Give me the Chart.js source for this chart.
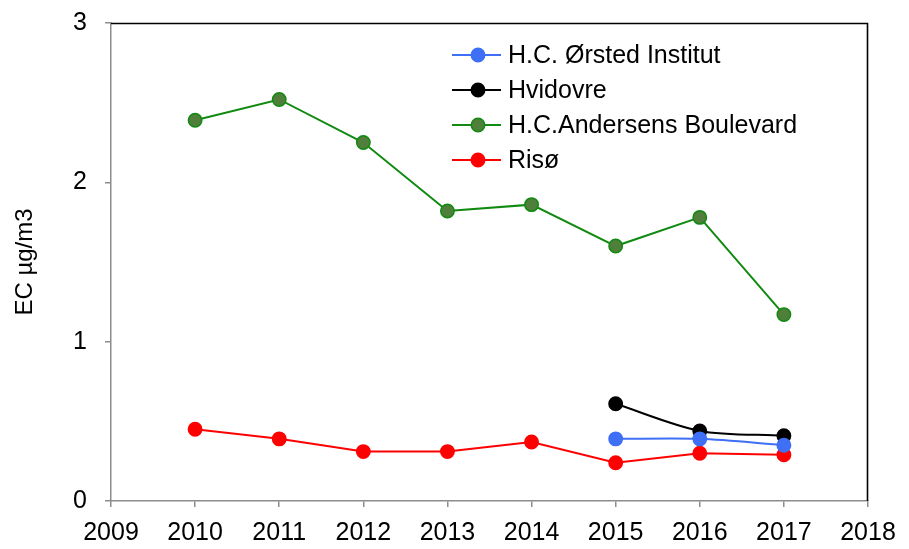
<!DOCTYPE html>
<html>
<head>
<meta charset="utf-8">
<script src="https://cdn.jsdelivr.net/npm/chart.js@4.4.1/dist/chart.umd.min.js"></script>
<style>
  html, body { margin: 0; padding: 0; background: #fff; }
  #wrap { width: 909px; height: 549px; }
</style>
</head>
<body>
<div id="wrap"><canvas id="ecChart" width="909" height="549"></canvas></div>
<script>
  // yearly mean elemental carbon, µg/m3
  const years = [2010, 2011, 2012, 2013, 2014, 2015, 2016, 2017];
  const orsted = [null, null, null, null, null, 0.39, 0.39, 0.35];
  const hvidovre = [null, null, null, null, null, 0.61, 0.44, 0.41];
  const hcAndersen = [2.39, 2.52, 2.25, 1.82, 1.86, 1.60, 1.78, 1.17];
  const riso = [0.45, 0.39, 0.31, 0.31, 0.37, 0.24, 0.30, 0.29];
  const xTicks = [2009, 2010, 2011, 2012, 2013, 2014, 2015, 2016, 2017, 2018];
  const yTicks = [0, 1, 2, 3];

  const font = "'Liberation Sans', Arial, sans-serif";

  function points(values) {
    return years.map((x, i) => ({ x, y: values[i] })).filter((p) => p.y !== null);
  }

  function series(label, values, line, fill, tension) {
    return {
      label,
      data: points(values),
      borderColor: line,
      backgroundColor: fill,
      pointBackgroundColor: fill,
      pointBorderColor: line,
      pointBorderWidth: 1.5,
      pointRadius: 6.7,
      borderWidth: 2,
      tension: tension || 0,
    };
  }

  // legend drawn inside the plot: short line with a marker, then the name
  const insideLegend = {
    id: "insideLegend",
    afterDatasetsDraw(chart) {
      const ctx = chart.ctx;
      ctx.save();
      ctx.font = `25px ${font}`;
      ctx.textBaseline = "middle";
      chart.data.datasets.forEach((ds, i) => {
        const y = 55 + i * 35;
        ctx.strokeStyle = ds.borderColor;
        ctx.lineWidth = 2;
        ctx.beginPath();
        ctx.moveTo(452, y);
        ctx.lineTo(501, y);
        ctx.stroke();
        ctx.beginPath();
        ctx.arc(478, y, 6.7, 0, Math.PI * 2);
        ctx.fillStyle = ds.pointBackgroundColor;
        ctx.fill();
        ctx.lineWidth = 1.5;
        ctx.stroke();
        ctx.fillStyle = "#000";
        ctx.fillText(ds.label, 508, y + 1);
      });
      ctx.restore();
    },
  };

  // dark frame on the top and right of the plot
  const frame = {
    id: "frame",
    beforeDatasetsDraw(chart) {
      const a = chart.chartArea;
      const ctx = chart.ctx;
      ctx.save();
      ctx.strokeStyle = "#000";
      ctx.lineWidth = 1.6;
      ctx.beginPath();
      ctx.moveTo(a.left, a.top + 0.5);
      ctx.lineTo(a.right - 0.5, a.top + 0.5);
      ctx.lineTo(a.right - 0.5, a.bottom);
      ctx.stroke();
      ctx.restore();
    },
  };

  new Chart(document.getElementById("ecChart"), {
    type: "line",
    data: {
      datasets: [
        series("H.C. Ørsted Institut", orsted, "#3f6ff5", "#3f6ff5", 0.3),
        series("Hvidovre", hvidovre, "#000000", "#000000", 0.3),
        series("H.C.Andersens Boulevard", hcAndersen, "#108a10", "#4f7f3a"),
        series("Risø", riso, "#ff0000", "#ff0000"),
      ],
    },
    options: {
      responsive: false,
      animation: false,
      layout: { padding: { top: 23, right: 41, left: 0, bottom: 0 } },
      plugins: { legend: { display: false }, tooltip: { enabled: false } },
      scales: {
        x: {
          type: "linear",
          min: xTicks[0],
          max: xTicks[xTicks.length - 1],
          afterBuildTicks(scale) { scale.ticks = xTicks.map((v) => ({ value: v })); },
          afterFit(scale) {
            scale.height = 48;
            scale.paddingLeft = 0;
            scale.paddingRight = 0;
          },
          grid: { drawOnChartArea: false, tickLength: 6, color: "#8c8c8c", lineWidth: 1.5 },
          border: { color: "#8c8c8c", width: 1.5 },
          ticks: {
            color: "#000",
            padding: 11,
            font: { family: font, size: 25 },
            callback: (v) => String(v),
          },
        },
        y: {
          min: yTicks[0],
          max: yTicks[yTicks.length - 1],
          afterBuildTicks(scale) { scale.ticks = yTicks.map((v) => ({ value: v })); },
          afterFit(scale) {
            scale.width = 111;
            scale.paddingTop = 0;
            scale.paddingBottom = 0;
          },
          grid: { drawOnChartArea: false, tickLength: 6, color: "#8c8c8c", lineWidth: 1.5 },
          border: { color: "#8c8c8c", width: 1.5 },
          title: {
            display: true,
            text: "EC µg/m3",
            color: "#000",
            font: { family: font, size: 24 },
            padding: { top: 11, bottom: 0 },
          },
          ticks: {
            color: "#000",
            padding: 18,
            font: { family: font, size: 25 },
          },
        },
      },
    },
    plugins: [frame, insideLegend],
  });
</script>
</body>
</html>
